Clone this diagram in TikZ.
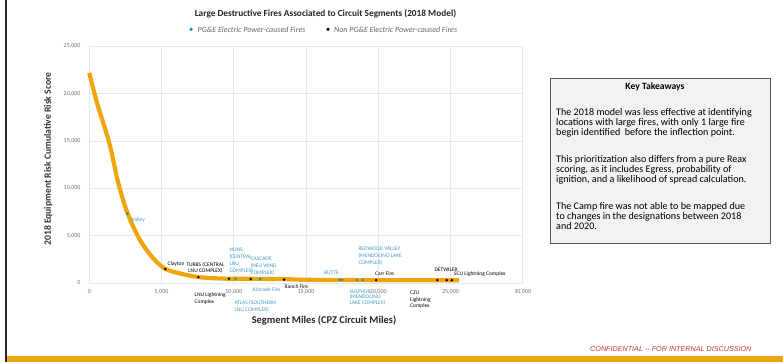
\documentclass[tikz,border=0pt]{standalone}
\usepackage{fontspec}
\setmainfont{Carlito}
\newfontfamily\confont{Liberation Sans}
\definecolor{fireorange}{RGB}{238,166,12}
\definecolor{pgeblue}{RGB}{40,132,196}
\definecolor{labelblue}{RGB}{66,150,200}
\definecolor{gridblue}{RGB}{220,234,244}
\definecolor{tickgray}{RGB}{110,110,110}
\definecolor{confred}{RGB}{196,52,52}
\begin{document}
\begin{tikzpicture}[x=1pt,y=-1pt,
    gridline/.style={draw=gridblue,line width=0.6pt},
    ticklabel/.style={font=\fontsize{6}{7}\selectfont,text=tickgray,inner sep=0pt},
    firelabel/.style={font=\fontsize{5.5}{6.8}\selectfont,inner sep=0pt,align=left,anchor=north west}]

  \useasboundingbox (0,0) rectangle (783,362);
  \draw[line width=2pt,black!85] (6,0) -- (6,362);
  \fill[fireorange] (7,355.5) rectangle (783,362);

  \node[font=\bfseries\fontsize{9.3}{11}\selectfont,text=black!85] (title) at (325.5,14)
    {Large Destructive Fires Associated to Circuit Segments (2018 Model)};

  \begin{scope}[every node/.style={circle,inner sep=0pt,minimum size=3.6pt}]
    \node[fill=pgeblue] (pgekey) at (191,29.3) {};
    \node[fill=black] (otherkey) at (328,29.3) {};
  \end{scope}
  \begin{scope}[every node/.style={anchor=west,inner sep=0pt,text=black!60,font=\itshape\fontsize{8}{9}\selectfont}]
    \node (pgetext) at (197.5,29.3) {PG\&E Electric Power-caused Fires};
    \node (othertext) at (334,29.3) {Non PG\&E Electric Power-caused Fires};
  \end{scope}

  \begin{scope}[shift={(89.3,283)},x=14.447pt,y=9.467pt]
    \foreach \v in {0,5,...,25}
      \draw[gridline] (0,\v) -- (30,\v);
    \foreach \u in {0,5,...,30}
      \draw[gridline] (\u,0) -- (\u,25);

    \foreach \v/\t in {0/0,5/{5,000},10/{10,000},15/{15,000},20/{20,000},25/{25,000}}
      \node[ticklabel,anchor=east] (y\v) at (-0.6,\v) {\t};
    \foreach \u/\t in {0/0,5/{5,000},10/{10,000},15/{15,000},20/{20,000},25/{25,000},30/{30,000}}
      \node[ticklabel] (x\u) at (\u,-0.95) {\t};

    \draw[fireorange,line width=4.2pt] plot[smooth,tension=0.5] coordinates {
      (0,22.2) (0.51,19.15) (1.39,14.76) (2.0,10.6) (2.65,7.35) (3.51,4.54)
      (4.43,2.6) (5.25,1.5) (6.3,1.0) (7.55,0.62) (9.0,0.48) (10.1,0.45)
      (13.3,0.42) (15,0.34) (19.8,0.3) (25.6,0.3)};

    \begin{scope}[every node/.style={circle,inner sep=0pt,minimum size=2.8pt}]
      \node[fill=pgeblue] (1)  at (2.65,7.33) {};
      \node[fill=black]   (2)  at (5.26,1.48) {};
      \node[fill=black]   (3)  at (7.55,0.62) {};
      \node[fill=black]   (4)  at (9.67,0.45) {};
      \node[fill=pgeblue] (5)  at (10.13,0.47) {};
      \node[fill=black]   (6)  at (11.17,0.42) {};
      \node[fill=pgeblue] (7)  at (11.84,0.42) {};
      \node[fill=black]   (8)  at (13.48,0.36) {};
      \node[fill=pgeblue] (9)  at (17.31,0.33) {};
      \node[fill=pgeblue] (10) at (17.5,0.33) {};
      \node[fill=pgeblue] (11) at (18.51,0.32) {};
      \node[fill=pgeblue] (12) at (18.92,0.3) {};
      \node[fill=black]   (13) at (19.85,0.3) {};
      \node[fill=black]   (14) at (24.09,0.3) {};
      \node[fill=black]   (15) at (24.74,0.3) {};
      \node[fill=black]   (16) at (25.09,0.3) {};
    \end{scope}
  \end{scope}

  \begin{scope}[every node/.style={firelabel,text=labelblue}]
    \node (valleylbl)  at (131.5,217.0) {Valley};
    \node (nunslbl)    at (229.3,248.2) {NUNS\\(CENTRAL\\LNU\\COMPLEX)};
    \node (cascadelbl) at (250.5,256.8) {CASCADE\\(NEU WIND\\COMPLEX)};
    \node (kincadelbl) at (253,287.9) {Kincade Fire};
    \node (atlaslbl)   at (234.3,300.2) {ATLAS (SOUTHERN\\LNU COMPLEX)};
    \node (buttelbl)   at (324,270.3) {BUTTE};
    \node (redwoodlbl) at (358.3,247.0) {REDWOOD VALLEY\\(MENDOCINO LAKE\\COMPLEX)};
    \node[font=\fontsize{5.5}{5.7}\selectfont] (sulphurlbl) at (349.3,289.5) {SULPHUR\\(MENDOCINO\\LAKE COMPLEX)};
  \end{scope}
  \begin{scope}[every node/.style={firelabel,text=black}]
    \node (claytonlbl) at (167.5,261.9) {Clayton};
    \node[anchor=north,align=center,font=\fontsize{5.5}{6.4}\selectfont] (tubbslbl) at (205.5,261.9) {TUBBS (CENTRAL\\LNU COMPLEX)};
    \node (lnulbl)     at (194.5,292.2) {LNU Lightning\\Complex};
    \node (ranchlbl)   at (284.5,284.6) {Ranch Fire};
    \node (carrlbl)    at (375,271.9) {Carr Fire};
    \node (czulbl)     at (410,290.5) {CZU\\Lightning\\Complex};
    \node (detwilerlbl) at (434.3,267.6) {DETWILER};
    \node (sculbl)     at (454,271.9) {SCU Lightning Complex};
  \end{scope}

  \node[font=\bfseries\fontsize{10.4}{12}\selectfont,text=black!85] (xtitle) at (324,321)
    {Segment Miles (CPZ Circuit Miles)};
  \node[rotate=90,font=\bfseries\fontsize{9.6}{11}\selectfont,text=black!80] (ytitle) at (48.3,159)
    {2018 Equipment Risk Cumulative Risk Score};

  \node[draw=black!65,fill=black!5,line width=0.8pt,minimum width=219.3pt,minimum height=165pt,
    inner sep=0pt] (keybox) at (660.35,160.8) {};
  \node[font=\bfseries\fontsize{9.6}{11}\selectfont] (keytitle) at (655,86.7) {Key Takeaways};
  \node[anchor=north west,inner sep=0pt,align=left,font=\fontsize{10.1}{10}\selectfont] (keytext) at (556,108.6)
    {The 2018 model was less effective at identifying\\
     locations with large fires, with only 1 large fire\\
     begin identified \ before the inflection point.\\[17pt]
     This prioritization also differs from a pure Reax\\
     scoring, as it includes Egress, probability of\\
     ignition, and a likelihood of spread calculation.\\[17pt]
     The Camp fire was not able to be mapped due\\
     to changes in the designations between 2018\\
     and 2020.};

  \node[anchor=west,inner sep=0pt,text=confred,font=\confont\itshape\fontsize{7.2}{8}\selectfont] (conf) at (590,349.3)
    {CONFIDENTIAL -- FOR INTERNAL DISCUSSION};

\end{tikzpicture}
\end{document}
